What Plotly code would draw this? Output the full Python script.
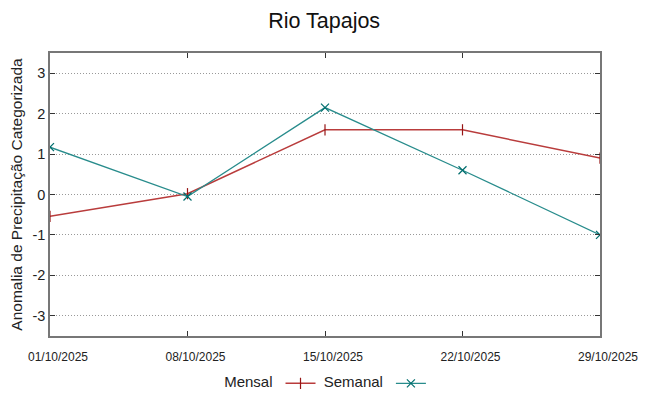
import plotly.graph_objects as go

datas = ["01/10/2025", "08/10/2025", "15/10/2025", "22/10/2025", "29/10/2025"]
mensal = [-0.54, 0.02, 1.6, 1.6, 0.9]
semanal = [1.17, -0.05, 2.15, 0.6, -1.0]
y_ticks = [-3, -2, -1, 0, 1, 2, 3]
y_tick_labels = ["-3", "-2", "-1", "0", "1", "2", "3"]
series_names = ["Mensal", "Semanal"]

W, H = 640, 388

fig = go.Figure()
fig.add_trace(go.Scatter(
    x=datas, y=mensal, name="", mode="lines+markers", legend="legend",
    line=dict(color="rgb(185,60,60)", width=1.5),
    marker=dict(symbol="line-ns", size=8, line=dict(color="rgb(150,20,20)", width=1.2), color="rgb(150,20,20)"),
))
fig.add_trace(go.Scatter(
    x=datas, y=semanal, name="", mode="lines+markers", legend="legend2",
    line=dict(color="rgb(40,140,140)", width=1.3),
    marker=dict(symbol="x-thin", size=8, line=dict(color="rgb(0,110,110)", width=1.2), color="rgb(0,110,110)"),
))

legend_common = dict(orientation="h", yref="container", y=0.032, yanchor="middle",
                     font=dict(size=15), itemwidth=30, bgcolor="rgba(0,0,0,0)")

fig.update_layout(
    width=W, height=H,
    margin=dict(l=42, r=48, t=45, b=60, autoexpand=False),
    paper_bgcolor="white", plot_bgcolor="white",
    font=dict(family="Liberation Sans, Arial, sans-serif", color="#222"),
    title=dict(text="Rio Tapajos", x=0.494, xanchor="center", yref="container", y=0.969, yanchor="middle",
               font=dict(size=21.5, color="#111")),
    showlegend=True,
    legend=dict(**legend_common, x=0.313, xanchor="left",
                title=dict(text=series_names[0], side="left", font=dict(size=15))),
    legend2=dict(**legend_common, x=0.494, xanchor="left",
                 title=dict(text=series_names[1], side="left", font=dict(size=15))),
    xaxis=dict(
        type="category", range=[0, 4], tickvals=datas, ticktext=datas,
        showgrid=False, ticks="inside", ticklen=5, tickcolor="#333",
        showline=True, linecolor="#777", linewidth=1.5, mirror="ticks",
        tickfont=dict(size=12), ticklabelstandoff=9, ticklabelshift=8,
        zeroline=False, automargin=False,
    ),
    yaxis=dict(
        range=[-3.5, 3.5], tickvals=y_ticks, ticktext=y_tick_labels,
        showgrid=True, gridcolor="#999", griddash="1px,2px", gridwidth=1,
        ticks="inside", ticklen=5, tickcolor="#333",
        showline=True, linecolor="#777", linewidth=1.5, mirror="ticks",
        tickfont=dict(size=14.5), zeroline=False, automargin=False,
        title=dict(text="Anomalia de Precipitação Categorizada", font=dict(size=15.5), standoff=8),
    ),
)

fig.write_html("out.html")
